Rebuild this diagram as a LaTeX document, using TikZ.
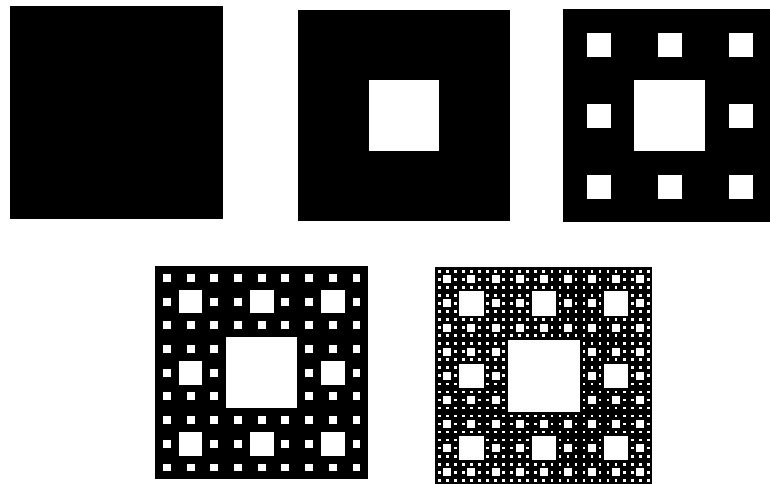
\documentclass[tikz,border=0pt]{standalone}
\usepackage{tikz}

% one carpet: level, left, top, side (y axis points down)
\newcommand{\carpetsq}[4]{%
  \fill[carpet] (#2,#3) rectangle ++(#4,#4);
  \ifnum#1>0
  \foreach \k in {1,...,#1}{%
    \pgfmathtruncatemacro\nlast{3^(\k-1)-1}
    \pgfmathsetmacro\hside{#4/3^\k}
    \foreach \i in {0,...,\nlast}
      \foreach \j in {0,...,\nlast}
        \fill[hole] ({#2+(3*\i+1)*\hside},{#3+(3*\j+1)*\hside}) rectangle ++(\hside,\hside);
  }%
  \fi
}

\begin{document}
\begin{tikzpicture}[x=1pt,y=-1pt,
  carpet/.style={fill=black},
  hole/.style={fill=white}]
\useasboundingbox (0,0) rectangle (770,483);
\clip (0,0) rectangle (770,483);
% top row
\carpetsq{0}{10}{6}{212.8}
\carpetsq{1}{298}{9.5}{211.5}
\carpetsq{2}{563.3}{9.3}{213}
% bottom row
\carpetsq{3}{155}{266}{213.3}
\carpetsq{4}{435.3}{267.3}{217}
\end{tikzpicture}
\end{document}
